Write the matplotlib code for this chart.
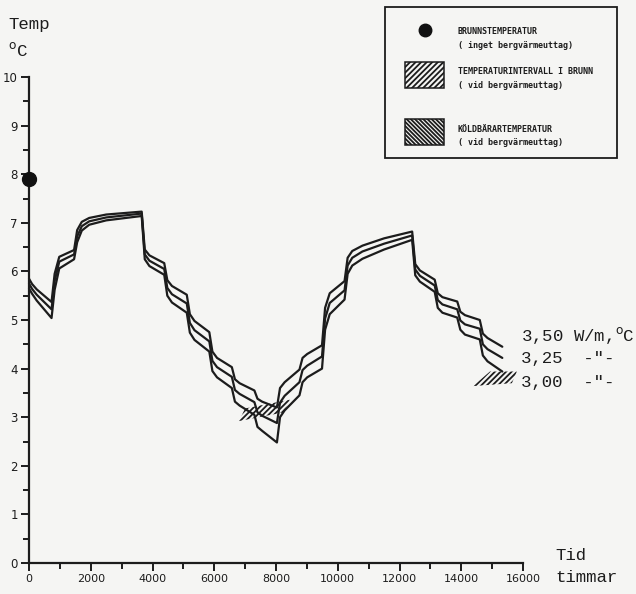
import matplotlib
matplotlib.use("Agg")
import matplotlib.pyplot as plt
from matplotlib.patches import Polygon, Rectangle

# ---------------- data ----------------
hours = [0, 100, 250, 730, 830, 980, 1460, 1560, 1710, 1950, 2500, 3650,
         3750, 3900, 4380, 4480, 4630, 5110, 5210, 5360, 5840, 5940, 6090, 6570,
         6670, 6820, 7300, 7400, 7550, 8030, 8130, 8280, 8760, 8860, 9010, 9490,
         9590, 9740, 10220, 10320, 10470, 10800, 11500, 12410,
         12510, 12660, 13140, 13240, 13390, 13870, 13970, 14120, 14600, 14700, 14850, 15330]

temp_350 = [5.85, 5.74, 5.63, 5.37, 5.95, 6.30, 6.44, 6.85, 7.02, 7.10, 7.17, 7.23,
            6.45, 6.33, 6.17, 5.82, 5.70, 5.52, 5.12, 4.98, 4.75, 4.35, 4.22, 4.03,
            3.78, 3.70, 3.55, 3.38, 3.32, 3.20, 3.60, 3.72, 3.98, 4.22, 4.30, 4.48,
            5.25, 5.55, 5.80, 6.28, 6.42, 6.53, 6.68, 6.82,
            6.15, 6.02, 5.83, 5.55, 5.47, 5.38, 5.17, 5.10, 5.00, 4.72, 4.63, 4.45]

temp_325 = [5.75, 5.64, 5.52, 5.22, 5.80, 6.20, 6.35, 6.72, 6.93, 7.03, 7.11, 7.19,
            6.35, 6.22, 6.05, 5.66, 5.53, 5.34, 4.94, 4.79, 4.56, 4.16, 4.03, 3.83,
            3.56, 3.48, 3.31, 3.10, 3.03, 2.88, 3.30, 3.44, 3.72, 3.97, 4.06, 4.25,
            5.03, 5.35, 5.61, 6.12, 6.28, 6.41, 6.57, 6.74,
            6.04, 5.91, 5.71, 5.41, 5.32, 5.22, 4.99, 4.91, 4.82, 4.50, 4.40, 4.22]

temp_300 = [5.65, 5.54, 5.40, 5.04, 5.62, 6.06, 6.25, 6.60, 6.84, 6.96, 7.05, 7.14,
            6.25, 6.11, 5.93, 5.50, 5.36, 5.15, 4.74, 4.59, 4.35, 3.95, 3.82, 3.60,
            3.32, 3.24, 3.05, 2.80, 2.72, 2.48, 3.00, 3.14, 3.45, 3.72, 3.82, 4.00,
            4.80, 5.12, 5.42, 5.95, 6.12, 6.26, 6.45, 6.65,
            5.92, 5.79, 5.58, 5.25, 5.15, 5.05, 4.80, 4.70, 4.60, 4.27, 4.15, 3.94]

undisturbed_hours = [0]
undisturbed_temp = [7.9]

# hatched ranges (hours, degC)
range_8000_hours = [6800, 8250, 8450, 7000]
range_8000_temp = [2.92, 3.10, 3.36, 3.18]
range_end_hours = [14380, 15640, 15800, 14930]
range_end_temp = [3.64, 3.70, 3.94, 3.94]

curve_labels = ['3,50 W/m,$^{\\rm o}$C', '3,25  -"-', '3,00  -"-']
x_ticks = list(range(0, 16001, 2000))
y_ticks = list(range(0, 11))

legend_lines = [('BRUNNSTEMPERATUR', '( inget bergvärmeuttag)'),
                ('TEMPERATURINTERVALL I BRUNN', '( vid bergvärmeuttag)'),
                ('KÖLDBÄRARTEMPERATUR', '( vid bergvärmeuttag)')]

# ---------------- figure ----------------
W, H = 636, 594
ink = '#1c1c1c'
fig = plt.figure(figsize=(W / 100, H / 100), dpi=100)
fig.patch.set_facecolor('#f5f5f3')

x0, x1 = 29, 523
y0, y1 = 563, 77
ax = fig.add_axes([x0 / W, 1 - y0 / H, (x1 - x0) / W, (y0 - y1) / H])
ax.set_facecolor('none')
ax.set_xlim(0, 16000)
ax.set_ylim(0, 10)
for s in ['top', 'right']:
    ax.spines[s].set_visible(False)
for s in ['left', 'bottom']:
    ax.spines[s].set_linewidth(1.6)
    ax.spines[s].set_color(ink)

tickfont = 'DejaVu Sans'
ax.set_xticks(x_ticks)
ax.set_xticklabels([str(v) for v in x_ticks], family=tickfont, fontsize=8)
ax.set_xticks(list(range(1000, 16000, 2000)), minor=True)
ax.set_yticks(y_ticks)
ax.set_yticklabels([str(v) for v in y_ticks], family=tickfont, fontsize=8.5)
ax.set_yticks([v + 0.5 for v in range(0, 10)], minor=True)
ax.tick_params(which='major', direction='out', length=6, width=1.4, color=ink, pad=2, labelcolor=ink)
ax.tick_params(which='minor', direction='out', length=4, width=1.4, color=ink)

lw = 1.6
for temps in (temp_350, temp_325, temp_300):
    ax.plot(hours, temps, color=ink, lw=lw, solid_joinstyle='round', solid_capstyle='round', clip_on=False)

ax.plot(undisturbed_hours, undisturbed_temp, 'o', color='#111111', ms=10, clip_on=False, zorder=5)

plt.rcParams['hatch.linewidth'] = 1.3
ax.add_patch(Polygon(list(zip(range_8000_hours, range_8000_temp)), closed=True,
                     facecolor='none', edgecolor=ink, lw=0, hatch='//////'))
ax.add_patch(Polygon(list(zip(range_end_hours, range_end_temp)), closed=True,
                     facecolor='none', edgecolor=ink, lw=0, hatch='//////', clip_on=False))

mono = 'Liberation Mono'
for lab, ypx in zip(curve_labels, (336, 359, 383)):
    fig.text(521 / W, 1 - ypx / H, lab, family=mono, fontsize=12.5, va='center', ha='left', color=ink)

# axis titles
fig.text(8 / W, 1 - 24 / H, 'Temp', family=mono, fontsize=12.5, va='center', ha='left', color=ink)
fig.text(8 / W, 1 - 50 / H, '$^{\\rm o}$C', family=mono, fontsize=12.5, va='center', ha='left', color=ink)
fig.text(555 / W, 1 - 556 / H, 'Tid', family=mono, fontsize=12.5, va='center', ha='left', color=ink)
fig.text(555 / W, 1 - 578 / H, 'timmar', family=mono, fontsize=12.5, va='center', ha='left', color=ink)

# ---------------- legend box (pixel overlay) ----------------
lg = fig.add_axes([0, 0, 1, 1])
lg.set_xlim(0, W)
lg.set_ylim(H, 0)
lg.axis('off')
lg.patch.set_alpha(0)
lg.add_patch(Rectangle((385, 7), 232, 151, facecolor='none', edgecolor=ink, lw=1.3))
lg.plot([425], [29.5], 'o', color='#111111', ms=9)
lg.add_patch(Rectangle((405, 62), 39, 26, facecolor='none', edgecolor=ink, lw=1.1, hatch='//////'))
lg.add_patch(Rectangle((405, 119), 39, 26, facecolor='none', edgecolor=ink, lw=1.1, hatch='\\\\\\\\\\\\\\\\'))
lfont = dict(family='DejaVu Sans Mono', fontsize=6.0, weight='bold', va='center', ha='left', color=ink)
for (l1, l2), ypx in zip(legend_lines, (32, 72, 129)):
    lg.text(458, ypx, l1, **lfont)
    lg.text(458, ypx + 13.5, l2, **lfont)

fig.savefig('out.png', dpi=100, facecolor=fig.get_facecolor())
